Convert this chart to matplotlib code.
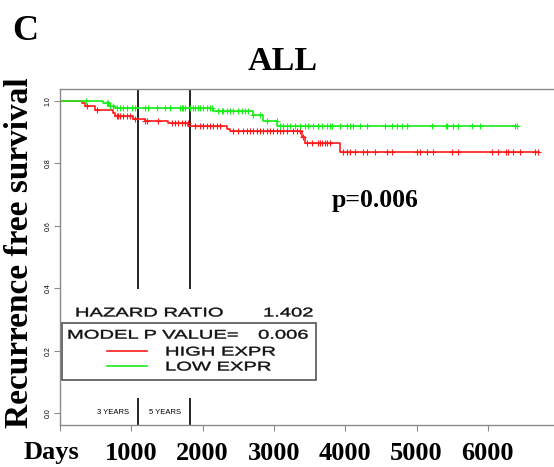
import numpy as np
import matplotlib
matplotlib.use('Agg')
import matplotlib.pyplot as plt
from matplotlib.patches import Rectangle, PathPatch
from matplotlib.textpath import TextPath
from matplotlib.font_manager import FontProperties
from matplotlib.transforms import Affine2D, ScaledTranslation

# Kaplan-Meier step data (days, survival after each drop)
high_times = [0, 305, 350, 490, 745, 770, 1025, 1190, 1515, 1800, 2340, 2385, 3390, 3440, 3930]
high_surv = [1.0, 0.992, 0.984, 0.971, 0.960, 0.950, 0.942, 0.936, 0.928, 0.920, 0.909, 0.902, 0.884, 0.864, 0.835]
high_end = 6720
high_censor = [375, 515, 795, 814, 842, 884, 940, 982, 1052, 1193, 1221, 1375, 1571, 1613, 1655,
               1712, 1754, 1796, 1894, 1964, 2006, 2062, 2104, 2147, 2203, 2245, 2427, 2497, 2567,
               2624, 2666, 2708, 2764, 2806, 2848, 2904, 2946, 2988, 3045, 3087, 3129, 3185, 3269,
               3325, 3367, 3409, 3466, 3536, 3620, 3648, 3676, 3718, 3746, 3788, 3971, 4027, 4069,
               4139, 4251, 4307, 4419, 4588, 4658, 5009, 5051, 5149, 5233, 5500, 5584, 6061, 6145,
               6257, 6285, 6356, 6454, 6664, 6706]

low_times = [0, 610, 700, 770, 2150, 2700, 2850, 3050]
low_surv = [1.0, 0.993, 0.985, 0.976, 0.966, 0.955, 0.936, 0.918]
low_end = 6412
low_censor = [361, 655, 673, 701, 743, 800, 842, 884, 940, 1010, 1052, 1193, 1235, 1361, 1473,
              1543, 1683, 1707, 1726, 1754, 1824, 1866, 1894, 1936, 1964, 2006, 2062, 2104, 2133,
              2217, 2273, 2287, 2343, 2385, 2427, 2497, 2553, 2595, 2637, 2708, 2806, 2904, 3045,
              3087, 3129, 3185, 3227, 3297, 3367, 3437, 3480, 3550, 3620, 3676, 3746, 3788, 3816,
              3928, 4027, 4069, 4111, 4209, 4307, 4560, 4658, 4728, 4798, 4868, 5219, 5416, 5430,
              5514, 5584, 5780, 5893, 6384, 6412]

year_marks = [1095, 1826]
year_labels = ['3 YEARS', '5 YEARS']
xtick_vals = [0, 1000, 2000, 3000, 4000, 5000, 6000]
ytick_vals = [0.0, 0.2, 0.4, 0.6, 0.8, 1.0]

serif = 'Liberation Serif'
sans = 'Liberation Sans'
grey = '#8a8a8a'
red = '#ff1a1a'
green = '#1aee1a'


def km_curve(ax, times, surv, end, censor, color):
    t = np.append(times, end)
    s = np.append(surv, surv[-1])
    ax.step(t, s, where='post', color=color, lw=1.2, zorder=2)
    idx = np.searchsorted(times, censor, side='right') - 1
    ax.plot(censor, np.array(surv)[idx], '+', color=color, ms=5, mew=0.8, zorder=2)


def wide_text(ax, x, y, s, size_px=12.6, stretch=1.6):
    # horizontally stretched text, left aligned, vertically centred on caps
    prop = FontProperties(family=sans)
    tp = TextPath((0, 0), s, size=size_px, prop=prop)
    cap = 0.716 * size_px
    tr = (Affine2D().scale(stretch, 1).translate(0, -cap / 2)
          + ScaledTranslation(x, y, ax.transData))
    ax.add_patch(PathPatch(tp, transform=tr, facecolor='#111111', edgecolor='#111111',
                           lw=0.3, zorder=5))


fig = plt.figure(figsize=(5.54, 4.67), dpi=100)
ax = fig.add_axes([60 / 554, 42 / 467, 494 / 554, 336 / 467])

for t in year_marks:
    ax.axvline(t, color='black', lw=1.2, zorder=1)

km_curve(ax, high_times, high_surv, high_end, high_censor, red)
km_curve(ax, low_times, low_surv, low_end, low_censor, green)

ax.set_xlim(0, 6928)
ax.set_ylim(-0.038, 1.038)
ax.spines['right'].set_visible(False)
for sp in ['top', 'left', 'bottom']:
    ax.spines[sp].set_color(grey)
    ax.spines[sp].set_linewidth(1.0)

ax.set_yticks(ytick_vals)
ax.set_yticklabels([f'{v:.1f}' for v in ytick_vals], rotation=90, va='center',
                   fontsize=5, family=sans)
ax.set_xticks(xtick_vals)
ax.set_xticklabels([''] + [str(v) for v in xtick_vals[1:]], fontsize=19,
                   family=serif, fontweight='bold')
ax.tick_params(axis='both', color=grey, length=4)
ax.tick_params(axis='x', pad=8)
ax.tick_params(axis='y', pad=2)

# year labels near the bottom
ax.text(745, 0.003, year_labels[0], ha='center', va='center', fontsize=5.5, family=sans)
ax.text(1470, 0.003, year_labels[1], ha='center', va='center', fontsize=5.5, family=sans)

# legend block
ax.add_patch(Rectangle((28, 0.048), 3620, 0.349, facecolor='white', edgecolor='none', zorder=3))
ax.add_patch(Rectangle((28, 0.106), 3560, 0.182, facecolor='none', edgecolor='#555555',
                       lw=1.2, zorder=4))
wide_text(ax, 210, 0.324, 'HAZARD RATIO')
wide_text(ax, 2847, 0.324, '1.402')
wide_text(ax, 98, 0.253, 'MODEL P VALUE=')
wide_text(ax, 2778, 0.253, '0.006')
ax.plot([659, 1220], [0.199, 0.199], color=red, lw=1.2, zorder=5)
ax.plot([659, 1220], [0.151, 0.151], color=green, lw=1.2, zorder=5)
wide_text(ax, 1473, 0.199, 'HIGH EXPR')
wide_text(ax, 1473, 0.151, 'LOW EXPR')

# big labels
fig.text(25 / 554, 1 - 31 / 467, 'C', ha='center', va='center', fontsize=26,
         family=serif, fontweight='bold')
fig.text(283 / 554, 1 - 61.5 / 467, 'ALL', ha='center', va='center', fontsize=24.5,
         family=serif, fontweight='bold')
fig.text(20 / 554, 1 - 253 / 467, 'Recurrence free survival', rotation=90, ha='center',
         va='center', fontsize=24, family=serif, fontweight='bold')
fig.text(51 / 554, 1 - 452 / 467, 'Days', ha='center', va='center', fontsize=19,
         family=serif, fontweight='bold')
fig.text(375 / 554, 1 - 201 / 467, 'p=0.006', ha='center', va='center', fontsize=18.5,
         family=serif, fontweight='bold')

fig.savefig('out.png', dpi=100)
